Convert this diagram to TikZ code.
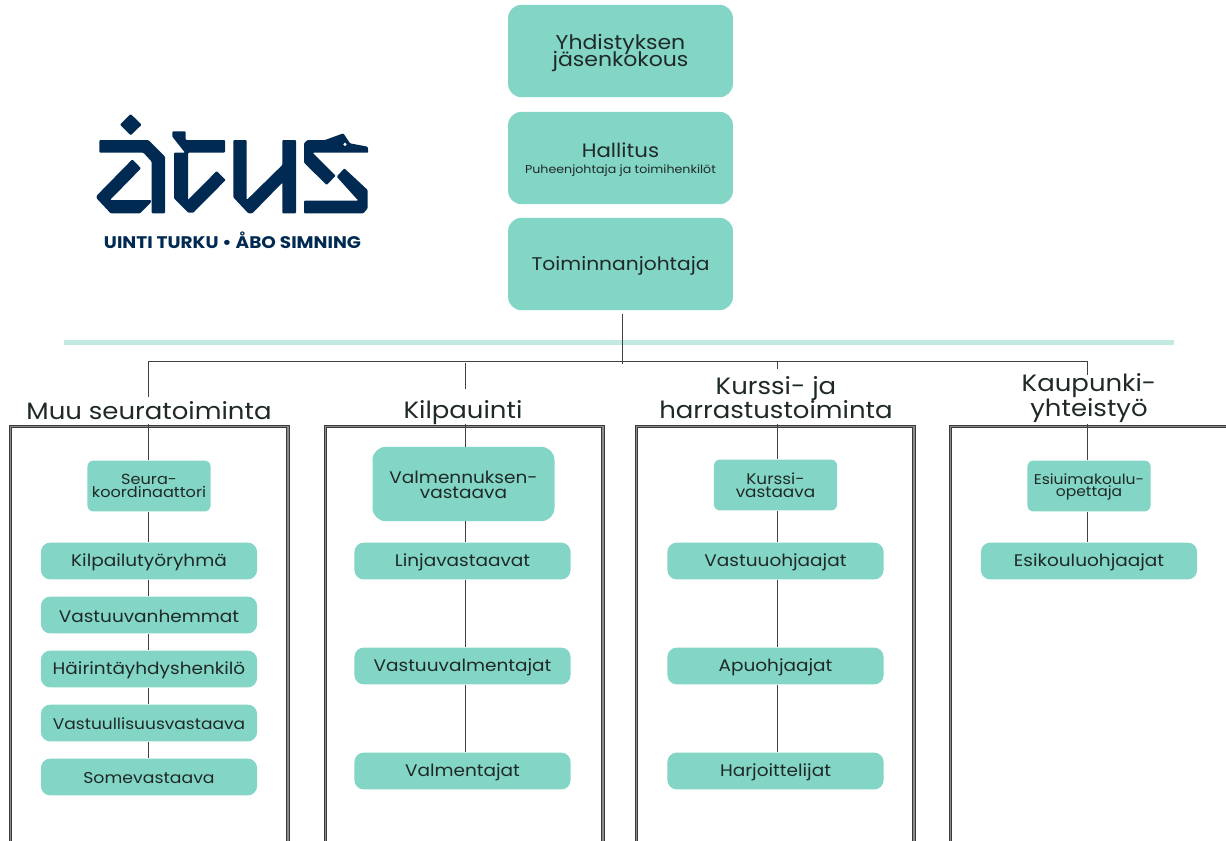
\documentclass[tikz,border=0pt]{standalone}
\usepackage{fontspec}
\setmainfont[FakeStretch=1.1]{Poppins}
\definecolor{teal1}{HTML}{83D5C5}
\definecolor{band}{HTML}{C3EAE2}
\definecolor{navy}{HTML}{012A52}
\definecolor{ink}{HTML}{1F2A28}
\definecolor{frameg}{HTML}{3A3A3A}
\newcommand{\fs}[1]{\fontsize{#1}{#1}\selectfont}
\newcommand{\dn}[1]{\raisebox{-1.5bp}[\height][\depth]{#1}}
\newcommand{\dnb}[1]{\raisebox{-0.7bp}[\height][\depth]{#1}}
\tikzset{
  x=0.75pt,y=-0.75pt,
  box/.style={fill=teal1,rounded corners=10pt,inner sep=0pt,align=center,text=ink,anchor=center},
  large/.style={box,minimum width=168bp,minimum height=69bp,font=\fs{13.8}},
  pill/.style={box,minimum width=161.5bp,minimum height=27.5bp,rounded corners=7pt,font=\fs{12.6}},
  small/.style={box,minimum width=92bp,minimum height=38bp,rounded corners=4.5pt},
  head/.style={text=ink,align=center,font=\fs{17.7},inner sep=0pt},
  wire/.style={draw=black!75,line width=0.75pt},
  frame/.style={draw=frameg,double=black!45,double distance=0.8pt,line width=1.05pt},
  logo/.style={fill=navy,draw=none,rounded corners=0.7pt}
}
\begin{document}
\begin{tikzpicture}
\useasboundingbox (0,0) rectangle (1226,840);
\fill[white] (0,0) rectangle (1226,840);
% frames
\draw[frame] (10.5,900) -- (10.5,426.5) -- (288,426.5) -- (288,900);
\draw[frame] (325.5,900) -- (325.5,426.5) -- (603,426.5) -- (603,900);
\draw[frame] (636.5,900) -- (636.5,426.5) -- (914,426.5) -- (914,900);
\draw[frame] (950.5,900) -- (950.5,426.5) -- (1240,426.5);
% band
\fill[band] (64,340) rectangle (1174,345);
% coordinates
\coordinate (trunk) at (622.5,361);
\coordinate (tm) at (148,361);
\coordinate (tk) at (465,363);
\coordinate (th) at (777,361);
\coordinate (tu) at (1087,361);
\coordinate (m1) at (148,397);
\coordinate (k1) at (465,389);
\coordinate (h1) at (777,369);
\coordinate (u1) at (1087,375);
\coordinate (m2) at (148,424);
\coordinate (k2) at (465,424);
\coordinate (h2) at (777,424);
\coordinate (u2) at (1087,424);
% nodes
\node[large,font=\fs{15}] (jk) at (620.5,51) {\dn{Yhdistyksen}\\[-3.5bp]\dn{jäsenkokous}};
\node[large,font=\fs{14.5}] (hal) at (620.5,158) {\dn{Hallitus}\\[-2.5bp]\dn{\fs{8.6}Puheenjohtaja ja toimihenkilöt}};
\node[large] (tj) at (620.5,264) {\dn{Toiminnanjohtaja}};
\coordinate (tjb) at (622.5,314);
% wires
\draw[wire] (tjb) -- (622.5,364);
\draw[wire] (tm) -- (tu);
\draw[wire] (tm) -- (m1);
\draw[wire] (tk) -- (k1);
\draw[wire] (th) -- (h1);
\draw[wire] (tu) -- (u1);
% headings
\node[head] (hm) at (149,411) {Muu seuratoiminta};
\node[head] (hk) at (463,412.5) {Kilpauinti};
\node[head] (hh) at (776,398) {Kurssi- ja\\[-1bp]harrastustoiminta};
\node[head] (hu) at (1089,398) {Kaupunki-\\[-0.5bp]yhteistyö};
% column nodes
\node[small,font=\fs{11}] (s1) at (149,486) {Seura-\\[-0.8bp]koordinaattori};
\node[pill] (s2) at (149,561) {\dnb{Kilpailutyöryhmä}};
\node[pill] (s3) at (149,615) {\dnb{Vastuuvanhemmat}};
\node[pill] (s4) at (149,669) {\dnb{Häirintäyhdyshenkilö}};
\node[pill,font=\fs{11.6}] (s5) at (149,723) {\dnb{Vastuullisuusvastaava}};
\node[pill,font=\fs{11.8}] (s6) at (149,777) {\dnb{Somevastaava}};
\node[box,minimum width=136bp,minimum height=55.5bp,font=\fs{12.6}] (k3) at (463.5,484) {\dnb{Valmennuksen-}\\[-1bp]\dnb{vastaava}};
\node[pill] (k4) at (462.5,561) {\dnb{Linjavastaavat}};
\node[pill] (k5) at (462.5,666) {\dnb{Vastuuvalmentajat}};
\node[pill] (k6) at (462.5,771) {\dnb{Valmentajat}};
\node[small,font=\fs{11.5}] (h3) at (775.5,485) {Kurssi-\\[-1.5bp]vastaava};
\node[pill] (h4) at (775.5,561) {\dnb{Vastuuohjaajat}};
\node[pill] (h5) at (775.5,666) {\dnb{Apuohjaajat}};
\node[pill] (h6) at (775.5,771) {\dnb{Harjoittelijat}};
\node[small,font=\fs{10.6}] (u3) at (1089,486) {\dnb{Esiuimakoulu-}\\[-1.5bp]\dnb{opettaja}};
\node[pill] (u4) at (1089,561) {\dnb{Esikouluohjaajat}};
% column wires
\draw[wire] (m2) -- (s1.north -| m2);
\draw[wire] (s1.south -| m2) -- (s2.north -| m2);
\draw[wire] (s2.south -| m2) -- (s3.north -| m2);
\draw[wire] (s3.south -| m2) -- (s4.north -| m2);
\draw[wire] (s4.south -| m2) -- (s5.north -| m2);
\draw[wire] (s5.south -| m2) -- (s6.north -| m2);
\draw[wire] (k2) -- (k3.north -| k2);
\draw[wire] (k3.south -| k2) -- (k4.north -| k2);
\draw[wire] (k4.south -| k2) -- (k5.north -| k2);
\draw[wire] (k5.south -| k2) -- (k6.north -| k2);
\draw[wire] (h2) -- (h3.north -| h2);
\draw[wire] (h3.south -| h2) -- (h4.north -| h2);
\draw[wire] (h4.south -| h2) -- (h5.north -| h2);
\draw[wire] (h5.south -| h2) -- (h6.north -| h2);
\draw[wire] (u2) -- (u3.north -| u2);
\draw[wire] (u3.south -| u2) -- (u4.north -| u2);
% logo (3x zoom coordinates, offset 80,100)
\begin{scope}[shift={(80,100)},x=0.25pt,y=-0.25pt]
\fill[logo] (152,42) -- (185,74) -- (152,106) -- (120,74) -- cycle;
\fill[logo] (58,120) -- (205,120) -- (255,170) -- (255,340) -- (215,340) -- (215,185) -- (190,158) -- (58,158) -- cycle;
\fill[logo] (157,178) -- (183,205) -- (90,300) -- (213,300) -- (213,307) -- (180,340) -- (92,340) -- (50,295) -- (50,287) -- cycle;
\fill[logo] (277,94) -- (317,94) -- (317,120) -- (435,120) -- (435,158) -- (324,158) -- (324,300) -- (410,213) -- (437,240) -- (340,338) -- (325,338) -- (282,295) -- (282,158) -- (315,158) -- (277,110) -- cycle;
\fill[logo] (460,120) -- (500,120) -- (500,300) -- (607,195) -- (607,120) -- (648,120) -- (648,340) -- (607,340) -- (607,248) -- (517,340) -- (505,340) -- (460,292) -- cycle;
\fill[logo] (672,130) -- (682,120) -- (735,120) -- (790,100) -- (810,130) -- (863,140) -- (865,158) -- (698,158) -- (767,227) -- (740,255) -- (672,188) -- cycle;
\fill[logo] (793,205) -- (863,270) -- (863,325) -- (850,340) -- (672,340) -- (672,302) -- (835,302) -- (770,230) -- cycle;
\fill[white] (795,133) circle (5);
\end{scope}
\node[text=navy,inner sep=0pt,font=\fs{12.6}\bfseries] (lt) at (232.5,240.5) {UINTI TURKU • ÅBO SIMNING};
\end{tikzpicture}
\end{document}
